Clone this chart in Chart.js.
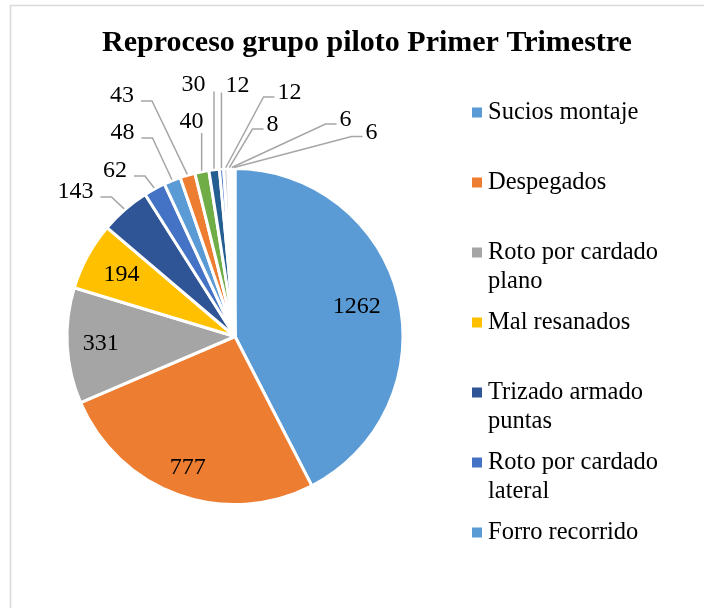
<!DOCTYPE html>
<html>
<head>
<meta charset="utf-8">
<script src="https://cdn.jsdelivr.net/npm/chart.js@4.4.1/dist/chart.umd.min.js"></script>
<style>
  html, body { margin: 0; padding: 0; background: #fff; }
  #wrap { position: relative; width: 704px; height: 608px; }
</style>
</head>
<body>
<div id="wrap"><canvas id="pie"></canvas></div>
<script>
var chartTitle = 'Reproceso grupo piloto Primer Trimestre';

var categories = ['Sucios montaje', 'Despegados', 'Roto por cardado plano', 'Mal resanados',
  'Trizado armado puntas', 'Roto por cardado lateral', 'Forro recorrido',
  'Defecto 8', 'Defecto 9', 'Defecto 10', 'Defecto 11', 'Defecto 12',
  'Defecto 13', 'Defecto 14', 'Defecto 15'];
var reprocesos = [1262, 777, 331, 194, 143, 62, 48, 43, 40, 30, 12, 12, 8, 6, 6];

// only the first seven names fit in the sheet's legend
var legendCount = 7;

var sliceColors = ['#5b9bd5', '#ed7d31', '#a5a5a5', '#ffc000', '#2f5597', '#4472c4', '#5b9bd5',
  '#ed7d31', '#70ad47', '#255e91', '#4472c4', '#c9c9c9', '#f4b183', '#deebf7', '#fbe5d6'];

// where each value label goes: inside = fraction of radius, else offset from centre + leader style
var labelPlace = [
  { inside: 0.745 }, { inside: 0.83 }, { inside: 0.80 }, { inside: 0.77 },
  { dx: -159.5, dy: -144.5, side: 'left' },
  { dx: -120, dy: -165.5, side: 'left' },
  { dx: -112.5, dy: -203.5, side: 'left' },
  { dx: -113, dy: -240.5, side: 'left' },
  { dx: -43.5, dy: -214.5, side: 'up' },
  { dx: -41.5, dy: -252, side: 'up' },
  { dx: 2.5, dy: -251, side: 'up' },
  { dx: 54.5, dy: -243.5, side: 'right' },
  { dx: 37.5, dy: -211.5, side: 'right' },
  { dx: 110.5, dy: -216.5, side: 'right' },
  { dx: 136.5, dy: -204, side: 'right' }
];

var SERIF = "'Liberation Serif', 'Times New Roman', serif";

function wrapWords(ctx, text, maxW) {
  var words = text.split(' '), lines = [], cur = '';
  words.forEach(function (w) {
    var test = cur ? cur + ' ' + w : w;
    if (cur && ctx.measureText(test).width > maxW) {
      lines.push(cur);
      cur = w;
    } else {
      cur = test;
    }
  });
  lines.push(cur);
  return lines;
}

var sheetLook = {
  id: 'sheetLook',
  beforeDraw: function (chart) {
    var ctx = chart.ctx;
    ctx.save();
    ctx.fillStyle = '#fff';
    ctx.fillRect(0, 0, chart.width, chart.height);
    ctx.strokeStyle = '#d9d9d9';
    ctx.lineWidth = 1.5;
    ctx.beginPath();
    ctx.moveTo(10.5, chart.height);
    ctx.lineTo(10.5, 5.5);
    ctx.lineTo(chart.width, 5.5);
    ctx.stroke();
    ctx.restore();
  },
  afterDatasetsDraw: function (chart) {
    var ctx = chart.ctx;
    var meta = chart.getDatasetMeta(0);
    var colors = chart.data.datasets[0].backgroundColor;
    ctx.save();

    // title
    ctx.fillStyle = '#000';
    ctx.font = 'bold 30px ' + SERIF;
    ctx.textAlign = 'center';
    ctx.textBaseline = 'middle';
    ctx.fillText(chartTitle, 367, 43);

    // value labels
    ctx.font = '24px ' + SERIF;
    ctx.strokeStyle = '#a6a6a6';
    ctx.lineWidth = 1.5;
    meta.data.forEach(function (arc, i) {
      var p = arc.getProps(['x', 'y', 'startAngle', 'endAngle', 'outerRadius'], true);
      var mid = (p.startAngle + p.endAngle) / 2;
      var cos = Math.cos(mid), sin = Math.sin(mid);
      var txt = String(chart.data.datasets[0].data[i]);
      var place = labelPlace[i];
      if (place.inside) {
        var d = p.outerRadius * place.inside;
        ctx.fillText(txt, p.x + cos * d, p.y + sin * d);
        return;
      }
      var tx = p.x + place.dx, ty = p.y + place.dy;
      var hw = ctx.measureText(txt).width / 2;
      var ex = p.x + cos * (p.outerRadius + 1), ey = p.y + sin * (p.outerRadius + 1);
      ctx.beginPath();
      if (place.side === 'left') {
        ctx.moveTo(tx + hw + 7, ty + 5);
        ctx.lineTo(tx + hw + 18, ty + 5);
        ctx.lineTo(ex, ey);
      } else if (place.side === 'right') {
        ctx.moveTo(tx - hw - 3, ty + 4);
        ctx.lineTo(tx - hw - 14, ty + 4);
        ctx.lineTo(ex, ey);
      } else {
        var over = ex > tx - hw - 2 && ex < tx + hw + 2;
        ctx.moveTo(ex, ty + (over ? 11 : 7));
        ctx.lineTo(ex, ey);
      }
      ctx.stroke();
      ctx.fillText(txt, tx, ty);
    });

    // legend, Excel style: fixed row pitch, long names wrapped
    ctx.font = '24.5px ' + SERIF;
    ctx.textAlign = 'left';
    for (var i = 0; i < legendCount; i++) {
      var y = 112.5 + i * 70;
      ctx.fillStyle = colors[i];
      ctx.fillRect(472, y - 5, 10, 10);
      ctx.fillStyle = '#000';
      wrapWords(ctx, chart.data.labels[i], 200).forEach(function (line, k) {
        ctx.fillText(line, 488, y + k * 29);
      });
    }
    ctx.restore();
  }
};

new Chart(document.getElementById('pie'), {
  type: 'pie',
  data: {
    labels: categories,
    datasets: [{
      data: reprocesos,
      backgroundColor: sliceColors,
      borderColor: '#ffffff',
      borderWidth: 3
    }]
  },
  options: {
    responsive: true,
    maintainAspectRatio: false,
    animation: false,
    layout: {
      padding: { left: 65, top: 167, right: 299, bottom: 102 }
    },
    plugins: {
      legend: { display: false },
      title: { display: false },
      tooltip: { enabled: false }
    }
  },
  plugins: [sheetLook]
});
</script>
</body>
</html>
